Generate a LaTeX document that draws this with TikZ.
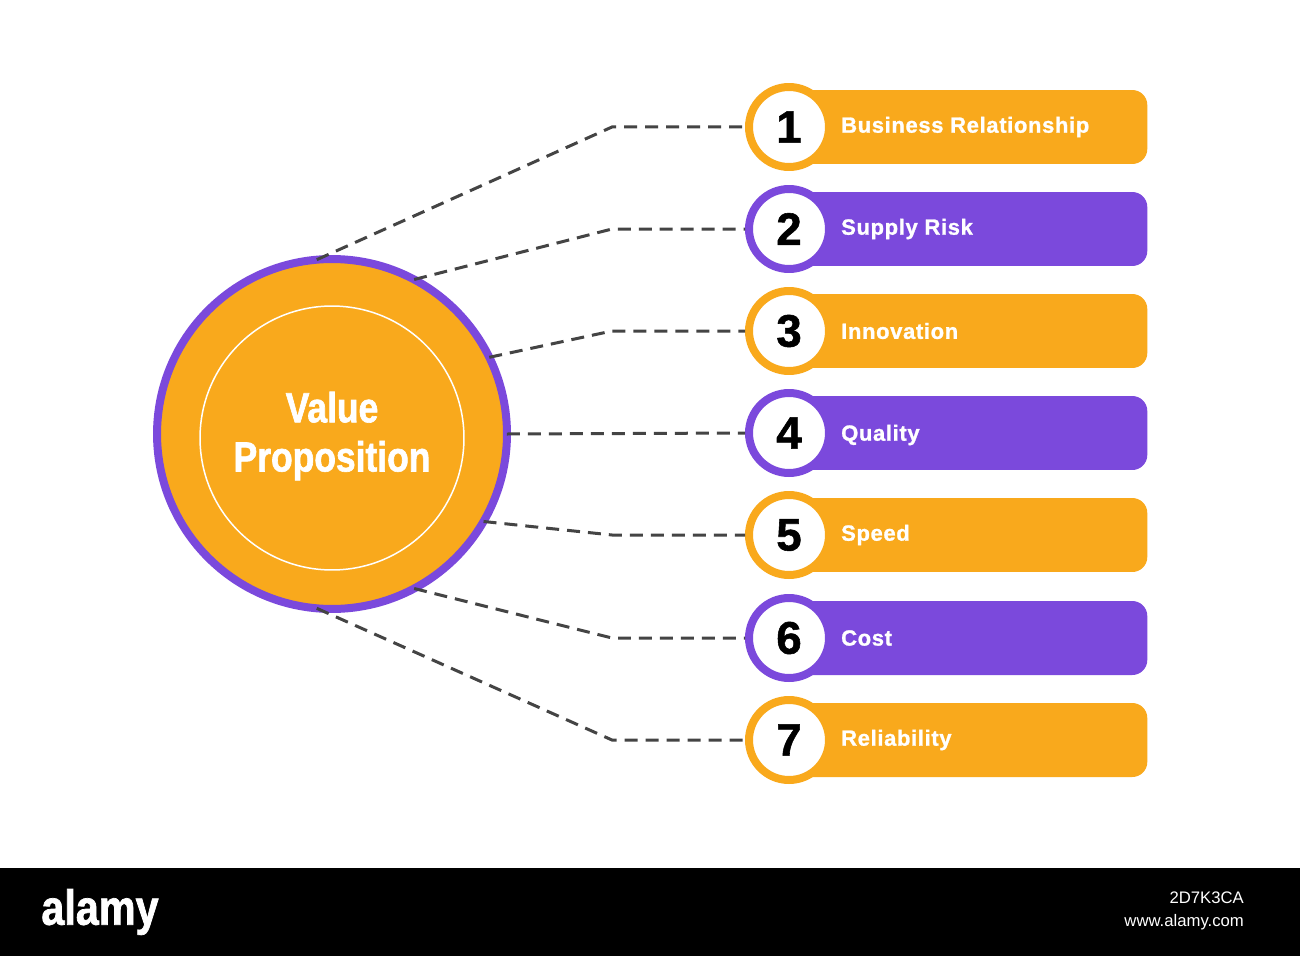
\documentclass[tikz,border=0pt]{standalone}
\usepackage{fontspec}
\setmainfont{Liberation Sans}
\newfontfamily\narrowbold[FakeStretch=0.84,FakeBold=1.5]{Liberation Sans Bold}
\newfontfamily\heavy[FakeBold=1.2]{Liberation Sans Bold}
\newfontfamily\heavylbl[FakeBold=1.2,LetterSpace=3]{Liberation Sans Bold}
\definecolor{org}{HTML}{F9A91C}
\definecolor{pur}{HTML}{7B49DC}
\definecolor{dsh}{HTML}{444444}
\begin{document}
\begin{tikzpicture}[x=0.02cm,y=-0.02cm,
  bar/.style={rounded corners=0.3cm,minimum width=7.44cm,minimum height=1.48cm,anchor=west,inner sep=0},
  numc/.style={circle,fill=white,line width=0.16cm,minimum size=1.6cm,inner sep=0,font=\heavy\fontsize{26}{26}\selectfont},
  lbl/.style={text=white,font=\heavylbl\fontsize{12.5}{13}\selectfont,anchor=west},
  conn/.style={dsh,line width=0.06cm,dash pattern=on 0.26cm off 0.16cm}]
\useasboundingbox (0,0) rectangle (1300,956);
\fill[white] (0,0) rectangle (1300,956);
\fill[black] (0,868) rectangle (1300,956);
\node[text=white,font=\narrowbold\fontsize{28}{28}\selectfont] (al) at (100,912) {alamy};
\node[text=white,anchor=east,font=\fontsize{9.5}{10}\selectfont] (id) at (1250,898) {2D7K3CA};
\node[text=white,anchor=east,font=\fontsize{9.5}{10}\selectfont] (www) at (1250,922) {www.alamy.com};
\node[circle,fill=org,draw=pur,line width=0.16cm,minimum size=7.0cm,inner sep=0,outer sep=0] (vp) at (332,434) {};
\node[circle,draw=white,line width=0.03cm,minimum size=5.28cm,inner sep=0] (vpi) at (332,438) {};
\node[text=white,align=center,font=\narrowbold\fontsize{24}{28}\selectfont] (vpt) at (332,436) {Value\\Proposition};
\foreach \i/\y/\c/\t/\a in {1/127/org/Business Relationship/95,2/229/pur/Supply Risk/62,3/331/org/Innovation/26,5/535/org/Speed/-30,6/638/pur/Cost/-62,7/740/org/Reliability/-95}{
  \node[bar,fill=\c] (b\i) at (775,\y) {};
  \node[numc,draw=\c] (c\i) at (789,\y) {\i};
  \node[lbl] (l\i) at (835,\y) {\t};
  \coordinate (k\i) at (612,\y);
  \draw[conn] (vp.\a) -- (k\i) -- (c\i.west);
}
\node[bar,fill=pur] (b4) at (775,433) {};
\node[numc,draw=pur] (c4) at (789,433) {4};
\node[lbl] (l4) at (835,435) {Quality};
\draw[conn] (vp.east) -- (c4.west);
\end{tikzpicture}
\end{document}
